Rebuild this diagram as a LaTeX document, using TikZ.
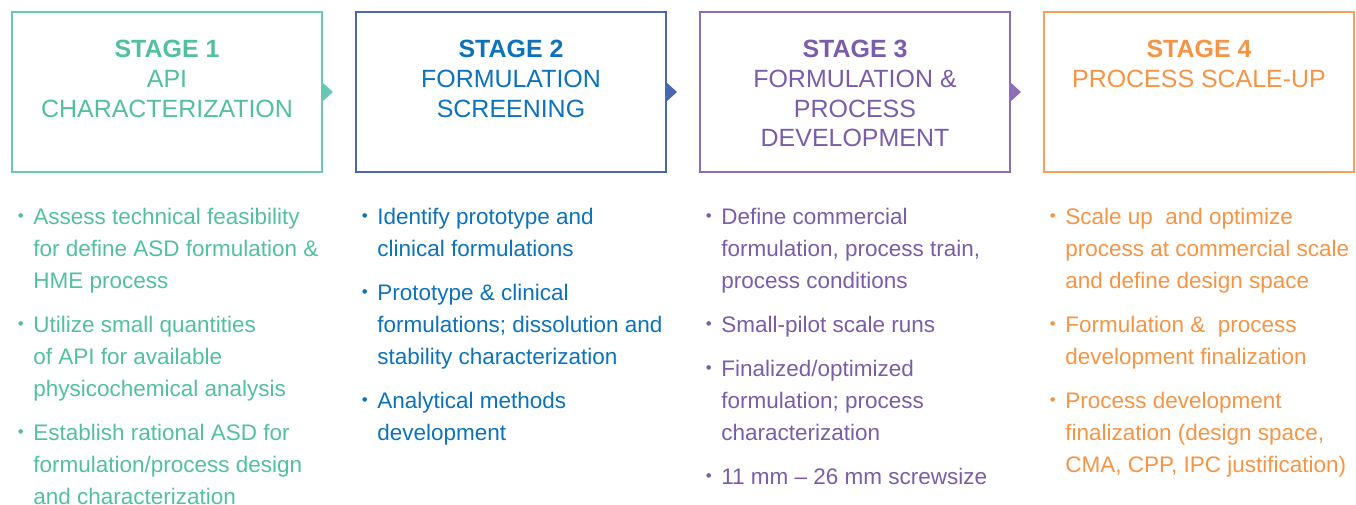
\documentclass[tikz,border=0pt]{standalone}
\usepackage{fontspec}
\setmainfont{Liberation Sans}
\usetikzlibrary{positioning}

\definecolor{stageA}{RGB}{82,192,160}
\definecolor{stageAbox}{RGB}{104,200,182}
\definecolor{stageB}{RGB}{12,114,188}
\definecolor{stageBbox}{RGB}{72,104,178}
\definecolor{stageC}{RGB}{122,92,170}
\definecolor{stageCbox}{RGB}{140,110,184}
\definecolor{stageD}{RGB}{246,148,68}
\definecolor{stageDbox}{RGB}{248,160,90}

\newcommand\itemdot{\llap{\raisebox{0.13em}{\scalebox{0.75}{\textbullet}}\hspace{0.19cm}}}

\tikzset{
  stagebox/.style={draw=#1, line width=1.4pt, minimum width=6.2cm, minimum height=3.2cm, outer sep=0pt, inner sep=0pt},
  stagetitle/.style={text=#1, align=center, inner sep=0pt, font=\fontsize{14.2}{17}\selectfont},
  stagelist/.style={text=#1, align=left, inner sep=0pt, font=\fontsize{12.8}{18.2}\selectfont},
  pointer/.style={fill=#1}
}

\begin{document}
\begin{tikzpicture}
  \useasboundingbox (0,0) rectangle (27.12,-10.1);
  % stage boxes
  \node[stagebox=stageAbox] (b1) at (3.34,-1.84) {};
  \node[stagebox=stageBbox, right=0.68cm of b1] (b2) {};
  \node[stagebox=stageCbox, right=0.68cm of b2] (b3) {};
  \node[stagebox=stageDbox, right=0.68cm of b3] (b4) {};
  % pointers between boxes
  \fill[pointer=stageAbox] (b1.east) ++(0,0.2) -- ++(0.22,-0.2) -- ++(-0.22,-0.2) -- cycle;
  \fill[pointer=stageBbox] (b2.east) ++(0,0.2) -- ++(0.22,-0.2) -- ++(-0.22,-0.2) -- cycle;
  \fill[pointer=stageCbox] (b3.east) ++(0,0.2) -- ++(0.22,-0.2) -- ++(-0.22,-0.2) -- cycle;
  % titles
  \node[stagetitle=stageA, below=0.55cm of b1.north] (t1) {\textbf{STAGE 1}\\API\\CHARACTERIZATION};
  \node[stagetitle=stageB, below=0.55cm of b2.north] (t2) {\textbf{STAGE 2}\\FORMULATION\\SCREENING};
  \node[stagetitle=stageC, below=0.55cm of b3.north] (t3) {\textbf{STAGE 3}\\FORMULATION \&\\PROCESS\\DEVELOPMENT};
  \node[stagetitle=stageD, below=0.55cm of b4.north] (t4) {\textbf{STAGE 4}\\PROCESS SCALE-UP};
  % lists
  \node[stagelist=stageA, below right=0.72cm and 0.42cm of b1.south west] (l1)
    {\itemdot Assess technical feasibility\\ for define ASD formulation \&\\ HME process\\[0.24cm]
     \itemdot Utilize small quantities\\ of API for available\\ physicochemical analysis\\[0.24cm]
     \itemdot Establish rational ASD for\\ formulation/process design\\ and characterization};
  \node[stagelist=stageB, below right=0.72cm and 0.42cm of b2.south west] (l2)
    {\itemdot Identify prototype and\\ clinical formulations\\[0.24cm]
     \itemdot Prototype \& clinical\\ formulations; dissolution and\\ stability characterization\\[0.24cm]
     \itemdot Analytical methods\\ development};
  \node[stagelist=stageC, below right=0.72cm and 0.42cm of b3.south west] (l3)
    {\itemdot Define commercial\\ formulation, process train,\\ process conditions\\[0.24cm]
     \itemdot Small-pilot scale runs\\[0.24cm]
     \itemdot Finalized/optimized\\ formulation; process\\ characterization\\[0.24cm]
     \itemdot 11 mm -- 26 mm screwsize};
  \node[stagelist=stageD, below right=0.72cm and 0.42cm of b4.south west] (l4)
    {\itemdot Scale up\ \ and optimize\\ process at commercial scale\\ and define design space\\[0.24cm]
     \itemdot Formulation \&\ \ process\\ development finalization\\[0.24cm]
     \itemdot Process development\\ finalization (design space,\\ CMA, CPP, IPC justification)};
\end{tikzpicture}
\end{document}
